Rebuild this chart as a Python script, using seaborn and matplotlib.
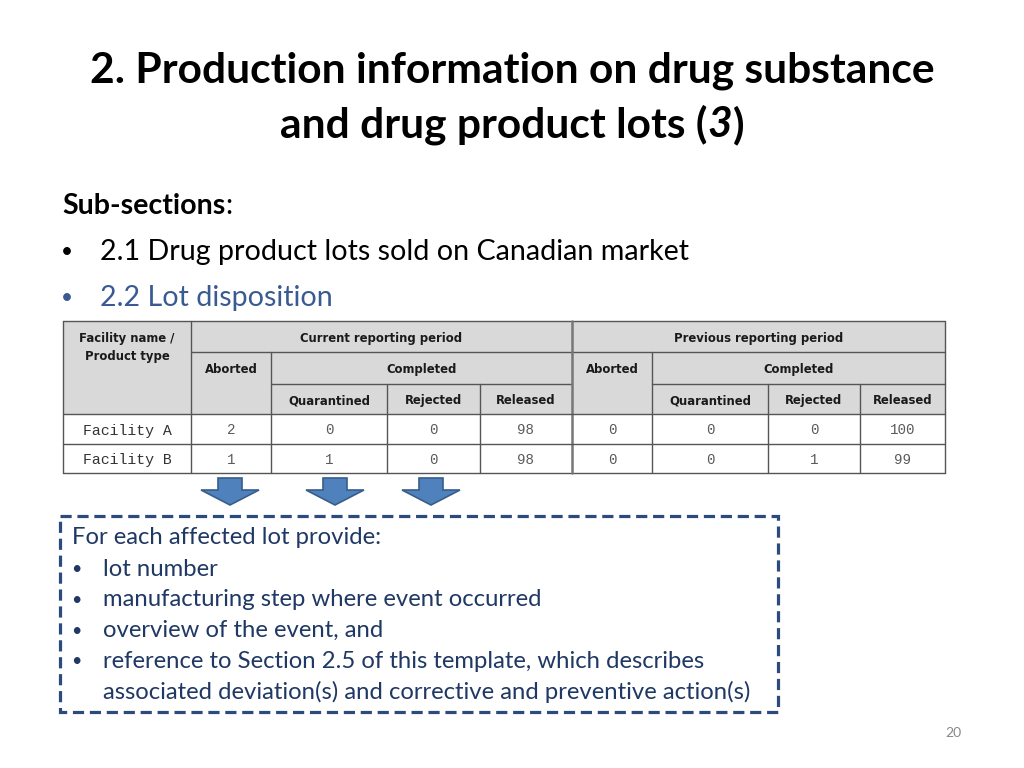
import matplotlib
matplotlib.use("Agg")
import matplotlib.pyplot as plt
from matplotlib.patches import Rectangle, Polygon
import seaborn as sns
import pandas as pd

sns.set_theme(style="white")
plt.rcParams['font.family'] = ['Lato', 'DejaVu Sans']
plt.rcParams['text.color'] = '#000000'

# ---- data ----
title_lines = ["2. Production information on drug substance", "and drug product lots ("]
subsection_items = ["2.1 Drug product lots sold on Canadian market", "2.2 Lot disposition"]
facilities = ["Facility A", "Facility B"]
periods = ["Current reporting period", "Previous reporting period"]
sub_headers = ["Quarantined", "Rejected", "Released"]
current_aborted = [2, 1]
current_quarantined = [0, 1]
current_rejected = [0, 0]
current_released = [98, 98]
previous_aborted = [0, 0]
previous_quarantined = [0, 0]
previous_rejected = [0, 1]
previous_released = [100, 99]
box_items = ["lot number", "manufacturing step where event occurred",
             "overview of the event, and",
             "reference to Section 2.5 of this template, which describes\nassociated deviation(s) and corrective and preventive action(s)"]
page_number = "20"

df = pd.DataFrame({
    "Facility": facilities,
    "c_ab": current_aborted, "c_q": current_quarantined, "c_rj": current_rejected, "c_rl": current_released,
    "p_ab": previous_aborted, "p_q": previous_quarantined, "p_rj": previous_rejected, "p_rl": previous_released,
})

fig = plt.figure(figsize=(10.24, 7.68), dpi=100)
ax = fig.add_axes([0, 0, 1, 1])
ax.set_xlim(0, 1024)
ax.set_ylim(768, 0)
ax.axis("off")

def right_edge(t):
    fig.canvas.draw()
    return ax.transData.inverted().transform((t.get_window_extent().x1, 0))[0]

# ---- title ----
TS = 30.6
ax.text(512, 71, title_lines[0], ha="center", va="center", fontsize=TS, fontweight="bold", color="#000000")
t2 = ax.text(512, 125, "and drug product lots (3)", ha="center", va="center", fontsize=TS,
             fontweight="bold", color="#000000", alpha=0)
fig.canvas.draw()
x0 = ax.transData.inverted().transform((t2.get_window_extent().x0, 0))[0]
t_a = ax.text(x0, 125, title_lines[1], ha="left", va="center", fontsize=TS, fontweight="bold", color="#000000")
xa = right_edge(t_a)
t_b = ax.text(xa, 125, "3", ha="left", va="center", fontsize=TS, fontweight="bold", style="italic", color="#000000")
xb = right_edge(t_b)
ax.text(xb + 1, 125, ")", ha="left", va="center", fontsize=TS, fontweight="bold", color="#000000")

# ---- sub-sections ----
SS = 20.6
t = ax.text(62, 206, "Sub-sections", ha="left", va="center", fontsize=SS, fontweight="bold", color="#000000")
xs = right_edge(t)
ax.text(xs, 206, ":", ha="left", va="center", fontsize=SS, color="#000000")
colors_items = ["#000000", "#3A5A92"]
for i, (item, c) in enumerate(zip(subsection_items, colors_items)):
    y = 252 + i * 46
    ax.text(61, y, "\u2022", ha="left", va="center", fontsize=15, color=c)
    ax.text(100, y, item, ha="left", va="center", fontsize=SS, color=c)

# ---- table ----
col_edges = [63, 191, 271, 387, 480, 572, 652, 768, 860, 945]
row_edges = [321, 352, 384, 414, 444, 473]
hdr_bg = "#D9D9D9"
line_c = "#555555"
ax.add_patch(Rectangle((col_edges[0], row_edges[0]), col_edges[-1] - col_edges[0],
                       row_edges[3] - row_edges[0], facecolor=hdr_bg, edgecolor="none"))
ax.add_patch(Rectangle((col_edges[0], row_edges[3]), col_edges[-1] - col_edges[0],
                       row_edges[5] - row_edges[3], facecolor="white", edgecolor="none"))

def hline(y, xa_, xb_):
    ax.plot([xa_, xb_], [y, y], color=line_c, lw=1)

def vline(x, ya_, yb_):
    ax.plot([x, x], [ya_, yb_], color=line_c, lw=1)

hline(row_edges[0], col_edges[0], col_edges[-1])
hline(row_edges[-1], col_edges[0], col_edges[-1])
vline(col_edges[0], row_edges[0], row_edges[-1])
vline(col_edges[-1], row_edges[0], row_edges[-1])
for p in range(2):
    base = 1 + 4 * p
    hline(row_edges[1], col_edges[base], col_edges[base + 4])
    hline(row_edges[2], col_edges[base + 1], col_edges[base + 4])
    vline(col_edges[base + 1], row_edges[1], row_edges[-1])
    vline(col_edges[base + 2], row_edges[2], row_edges[-1])
    vline(col_edges[base + 3], row_edges[2], row_edges[-1])
vline(col_edges[1], row_edges[0], row_edges[-1])
ax.plot([col_edges[5], col_edges[5]], [row_edges[0], row_edges[-1]], color="#777777", lw=1.8)
hline(row_edges[3], col_edges[0], col_edges[-1])
hline(row_edges[4], col_edges[0], col_edges[-1])

hdr_font = dict(fontsize=8.4, fontweight="bold", color="#1a1a1a", family=["DejaVu Sans"])
ax.text((col_edges[0] + col_edges[1]) / 2, 337, "Facility name /", ha="center", va="center_baseline", **hdr_font)
ax.text((col_edges[0] + col_edges[1]) / 2, 355, "Product type", ha="center", va="center_baseline", **hdr_font)
for p in range(2):
    base = 1 + 4 * p
    ax.text((col_edges[base] + col_edges[base + 4]) / 2, 337, periods[p], ha="center", va="center_baseline", **hdr_font)
    ax.text((col_edges[base] + col_edges[base + 1]) / 2, 368, "Aborted", ha="center", va="center_baseline", **hdr_font)
    ax.text((col_edges[base + 1] + col_edges[base + 4]) / 2, 368, "Completed", ha="center", va="center_baseline", **hdr_font)
    for k, sh in enumerate(sub_headers):
        ax.text((col_edges[base + 1 + k] + col_edges[base + 2 + k]) / 2, 399, sh, ha="center",
                va="center_baseline", **hdr_font)

value_cols = ["c_ab", "c_q", "c_rj", "c_rl", "p_ab", "p_q", "p_rj", "p_rl"]
for ri, row in df.iterrows():
    yc = (row_edges[3 + ri] + row_edges[4 + ri]) / 2
    ax.text((col_edges[0] + col_edges[1]) / 2, yc, row["Facility"], ha="center", va="center_baseline",
            fontsize=10.7, color="#333333", family=["Liberation Mono"])
    for ci, col in enumerate(value_cols):
        ax.text((col_edges[1 + ci] + col_edges[2 + ci]) / 2, yc, str(row[col]), ha="center", va="center_baseline",
                fontsize=10.2, color="#5a5a5a", family=["Liberation Mono"])

# ---- arrows ----
for xc in [230, 335, 431]:
    pts = [(xc - 12, 478), (xc + 12, 478), (xc + 12, 490), (xc + 29, 490), (xc, 505),
           (xc - 29, 490), (xc - 12, 490)]
    ax.add_patch(Polygon(pts, closed=True, facecolor="#4F81BD", edgecolor="#385D8A", lw=1.2))

# ---- dashed box ----
ax.add_patch(Rectangle((60, 516), 718, 196, facecolor="none", edgecolor="#2B4B7E", lw=2.3,
                       linestyle=(0, (3.5, 1.8))))
box_c = "#1F3864"
BS = 17.2
ax.text(72, 538, "For each affected lot provide:", ha="left", va="center", fontsize=BS, color=box_c)
y = 569
for item in box_items:
    lines = item.split("\n")
    ax.text(71, y, "\u2022", ha="left", va="center", fontsize=13, color=box_c)
    for ln in lines:
        ax.text(103, y, ln, ha="left", va="center", fontsize=BS, color=box_c)
        y += 30.8

ax.text(953, 733, page_number, ha="center", va="center", fontsize=10, color="#888888")

fig.savefig("out.png", dpi=100)
